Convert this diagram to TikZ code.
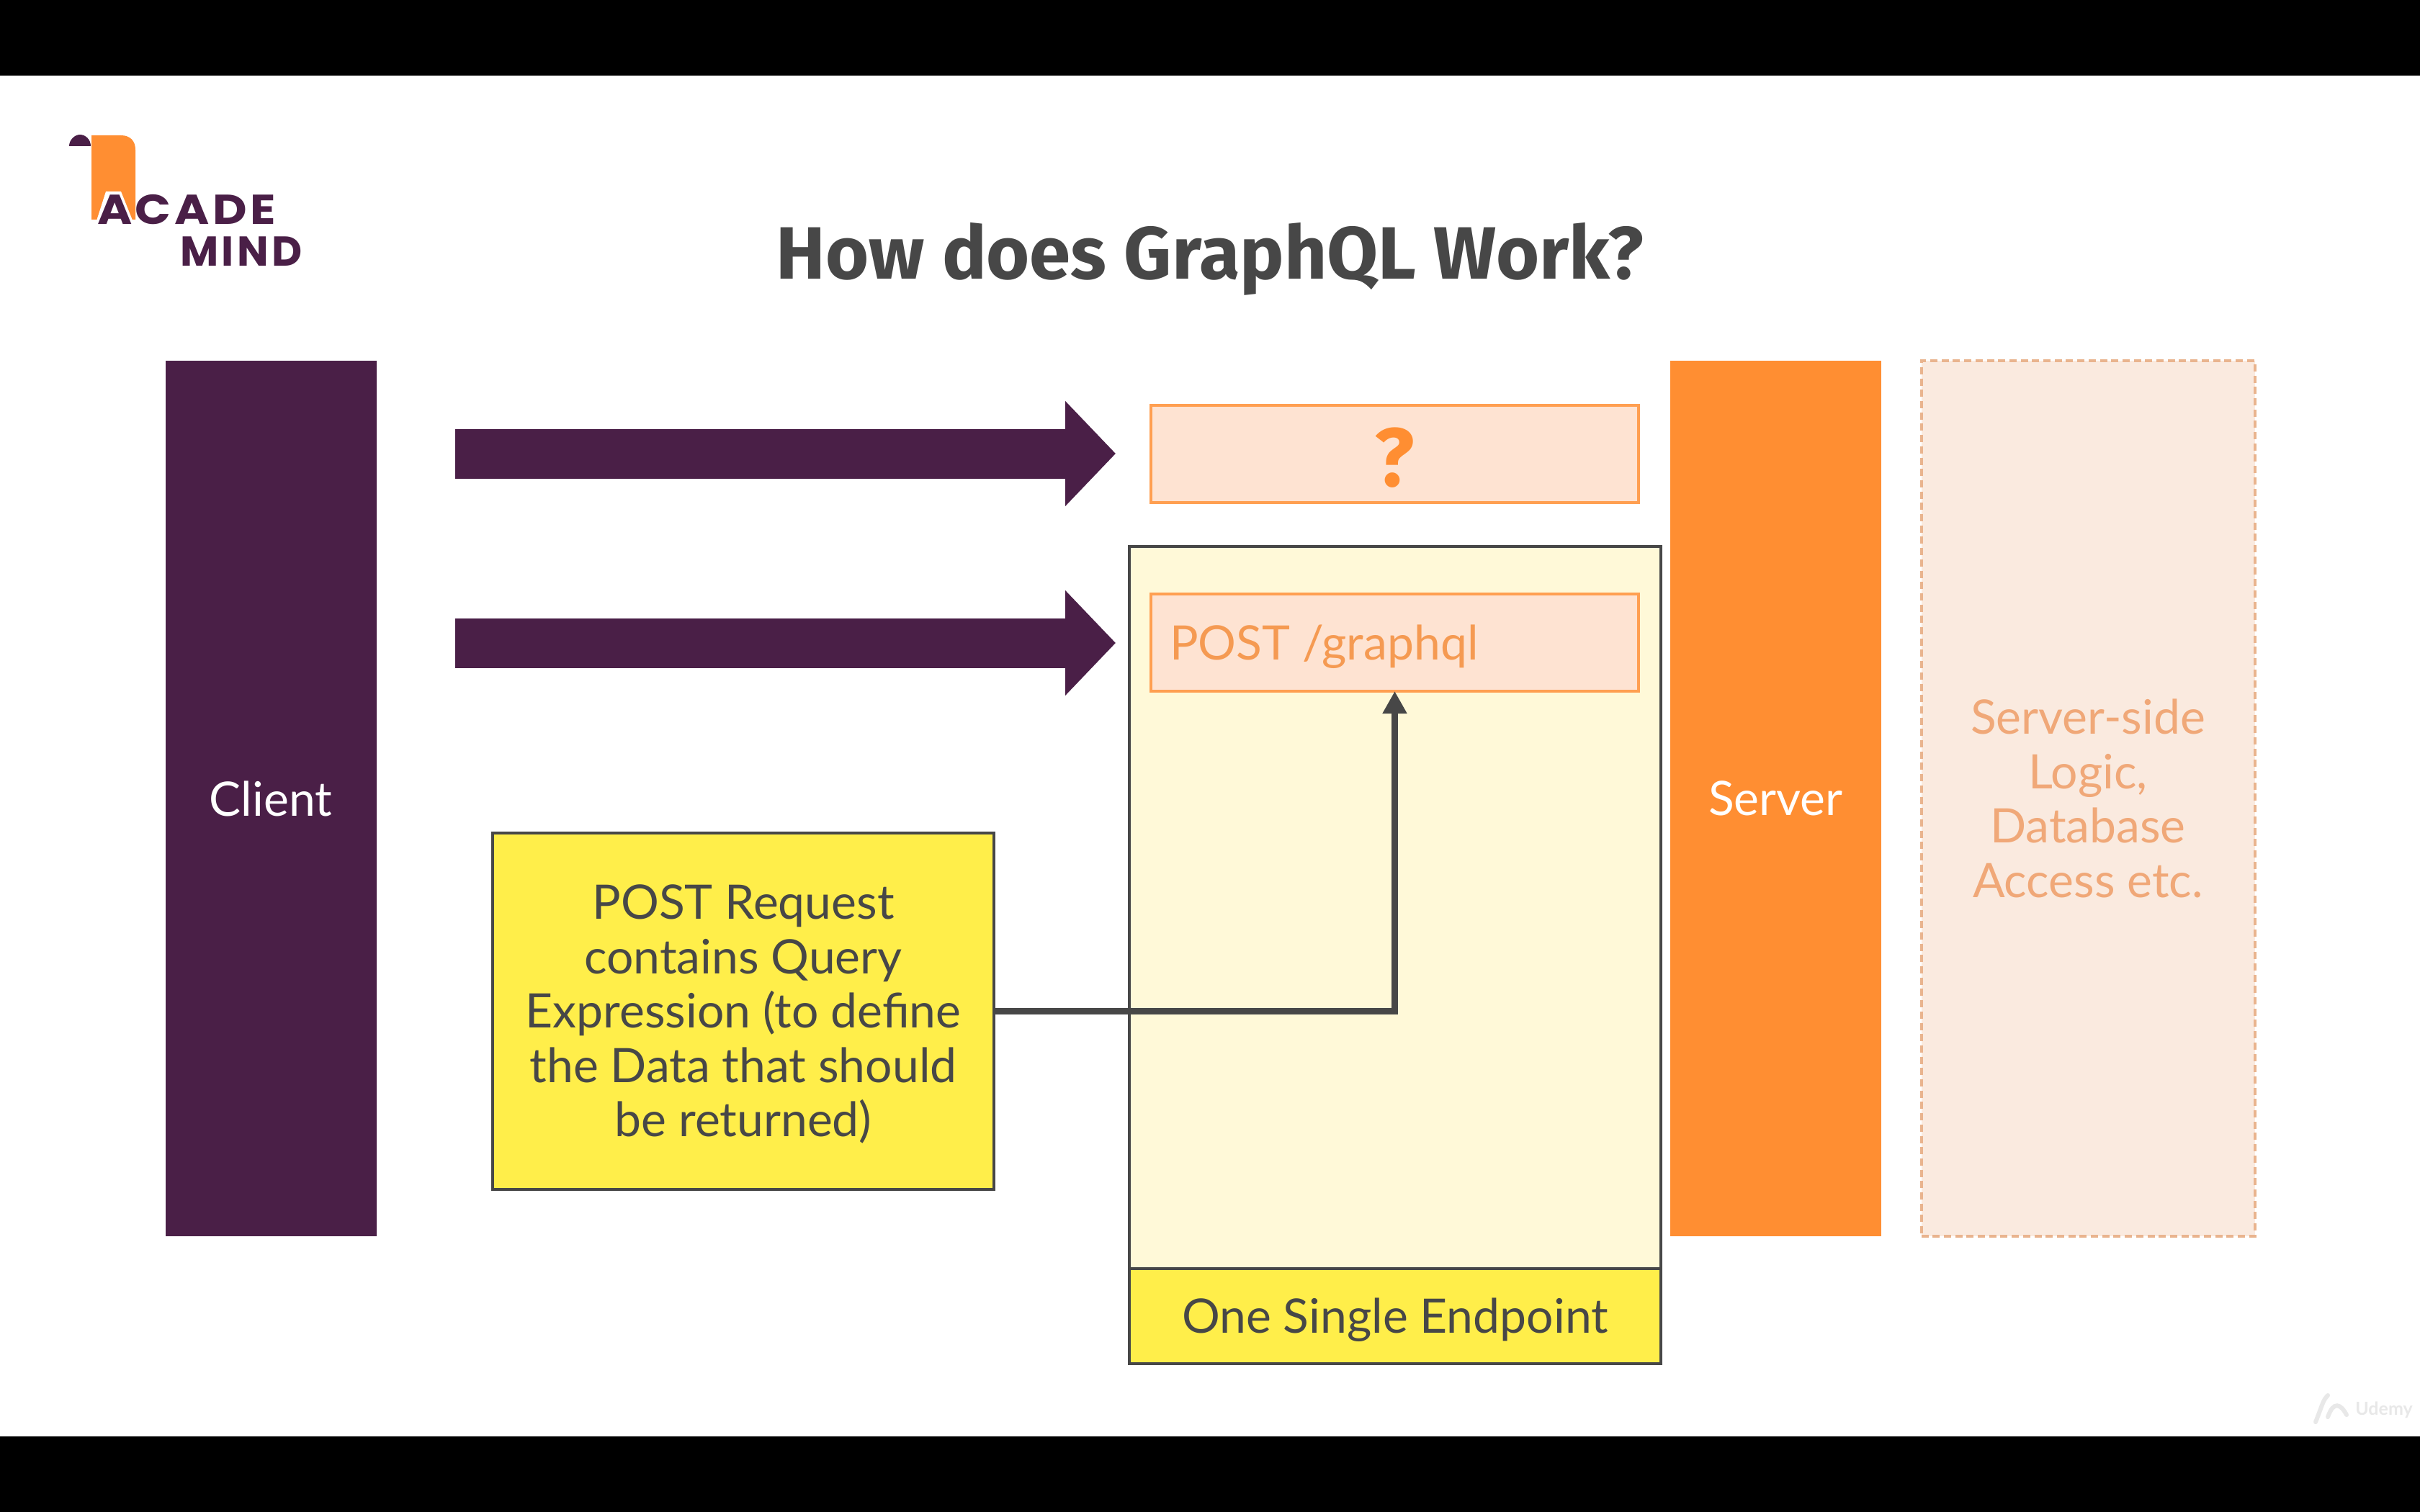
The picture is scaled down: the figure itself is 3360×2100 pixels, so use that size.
\documentclass[tikz,border=0pt]{standalone}
\usepackage{fontspec}
\setmainfont{Lato}
\newfontfamily\titlefont{Fira Sans}
\newfontfamily\logofont{Poppins}
\usetikzlibrary{arrows.meta}
\definecolor{plum}{HTML}{4A1F47}
\definecolor{amber}{HTML}{FF8E32}
\definecolor{peach}{HTML}{FEE3D2}
\definecolor{paleyellow}{HTML}{FFF9D8}
\definecolor{brightyellow}{HTML}{FFEE4A}
\definecolor{sand}{HTML}{FAEADF}
\definecolor{dashline}{HTML}{E9B48E}
\definecolor{slate}{HTML}{474747}
\definecolor{softtext}{HTML}{F0A878}
\definecolor{routetext}{HTML}{F59A52}
\newcommand{\bodysize}{\fontsize{66}{75.5}\selectfont}
\tikzset{
  x=1pt,y=-1pt,
  panel/.style={rectangle,inner sep=0pt,outer sep=0pt,align=center,font=\bodysize},
  pillar/.style={panel,minimum width=293pt,minimum height=1216pt,fill=#1,text=white},
  route/.style={panel,draw=amber!85!white,line width=4pt,fill=peach,minimum width=677pt,minimum height=135pt,text=amber},
  bigarrow/.style={draw=plum,line width=69pt,-{Triangle[length=70pt,width=142pt]}},
  linkarrow/.style={draw=slate,line width=9pt,-{Triangle[length=31pt,width=32pt]}},
  logotext/.style={inner sep=0pt,outer sep=0pt,text=plum,font=\logofont\bfseries\fontsize{58}{58}\selectfont},
}
\begin{document}
\begin{tikzpicture}
\useasboundingbox (0,0) rectangle (3360,2100);
\fill[white] (0,0) rectangle (3360,2100);
\fill[black] (0,0) rectangle (3360,105);
\fill[black] (0,1995) rectangle (3360,2100);

% logo
\fill[amber] (127,188) -- (168,188) .. controls (181,188) and (188,196) .. (188,208) -- (188,305) -- (127,305) -- cycle;
\fill[plum] (96,203) .. controls (96,194) and (104,187) .. (111,187) .. controls (119,187) and (126,194) .. (126,203) -- cycle;
\fill[white] (131,316) -- (147,266) -- (168,266) -- (188,316) -- cycle;
\node[logotext,anchor=base west] (acade) at (135,312) {\scalebox{1.13}[1]{\addfontfeature{LetterSpace=7}ACADE}};
\node[logotext,anchor=base west] (mind) at (250,370) {\addfontfeature{LetterSpace=8}MIND};

% title
\node[inner sep=0pt,text=slate,font=\titlefont\bfseries\fontsize{103}{103}\selectfont] (title) at (1680,360) {How does GraphQL Work?};

% pillars
\node[pillar=plum] (client) at (376,1109) {Client};
\node[pillar=amber] (server) at (2465.5,1109) {Server};
\node[panel,draw=dashline,line width=4pt,dashed,dash pattern=on 10pt off 5.7pt,fill=sand,minimum width=463pt,minimum height=1216pt,text=softtext] (logic) at (2899,1109) {Server-side\\Logic,\\Database\\Access etc.};

% endpoint
\node[panel,draw=slate,line width=4pt,fill=paleyellow,minimum width=738pt,minimum height=1003pt] (endpoint) at (1937,1260) {};
\node[panel,draw=slate,line width=4pt,fill=brightyellow,minimum width=738pt,minimum height=132pt,text=slate] (single) at (1937,1828) {\rule{0pt}{60pt}One Single Endpoint};

% routes
\node[route] (unknown) at (1936.5,630.5) {};
\node[inner sep=0pt,text=amber,font=\titlefont\bfseries\fontsize{115}{115}\selectfont] (mark) at (1936.5,636) {?};
\node[route] (graphql) at (1936.5,892.5) {};
\node[anchor=west,inner sep=0pt,text=routetext,font=\bodysize] (graphqltext) at (1624,898) {POST /graphql};

% note
\node[panel,draw=slate,line width=4pt,fill=brightyellow,minimum width=696pt,minimum height=495pt,text=slate] (note) at (1032,1404.5) {\rule{0pt}{56pt}POST Request\\contains Query\\Expression (to define\\the Data that should\\be returned)};

% arrows
\coordinate (a1s) at (632,630);
\coordinate (a1e) at (1549,630);
\coordinate (a2s) at (632,893);
\coordinate (a2e) at (1549,893);
\draw[bigarrow] (a1s) -- (a1e);
\draw[bigarrow] (a2s) -- (a2e);
\draw[linkarrow] (note.east) -| (graphql.south);

% watermark
\node[inner sep=0pt,text=black!9,font=\bfseries\fontsize{25}{25}\selectfont] (udemy) at (3310,1958) {Udemy};
\coordinate (w1) at (3215,1975);
\draw[black!9,line width=6pt,line cap=round] (w1) .. controls (3225,1950) and (3225,1945) .. (3232,1938);
\draw[black!9,line width=6pt,line cap=round] (3232,1968) .. controls (3240,1945) and (3250,1950) .. (3258,1965);
\end{tikzpicture}
\end{document}
